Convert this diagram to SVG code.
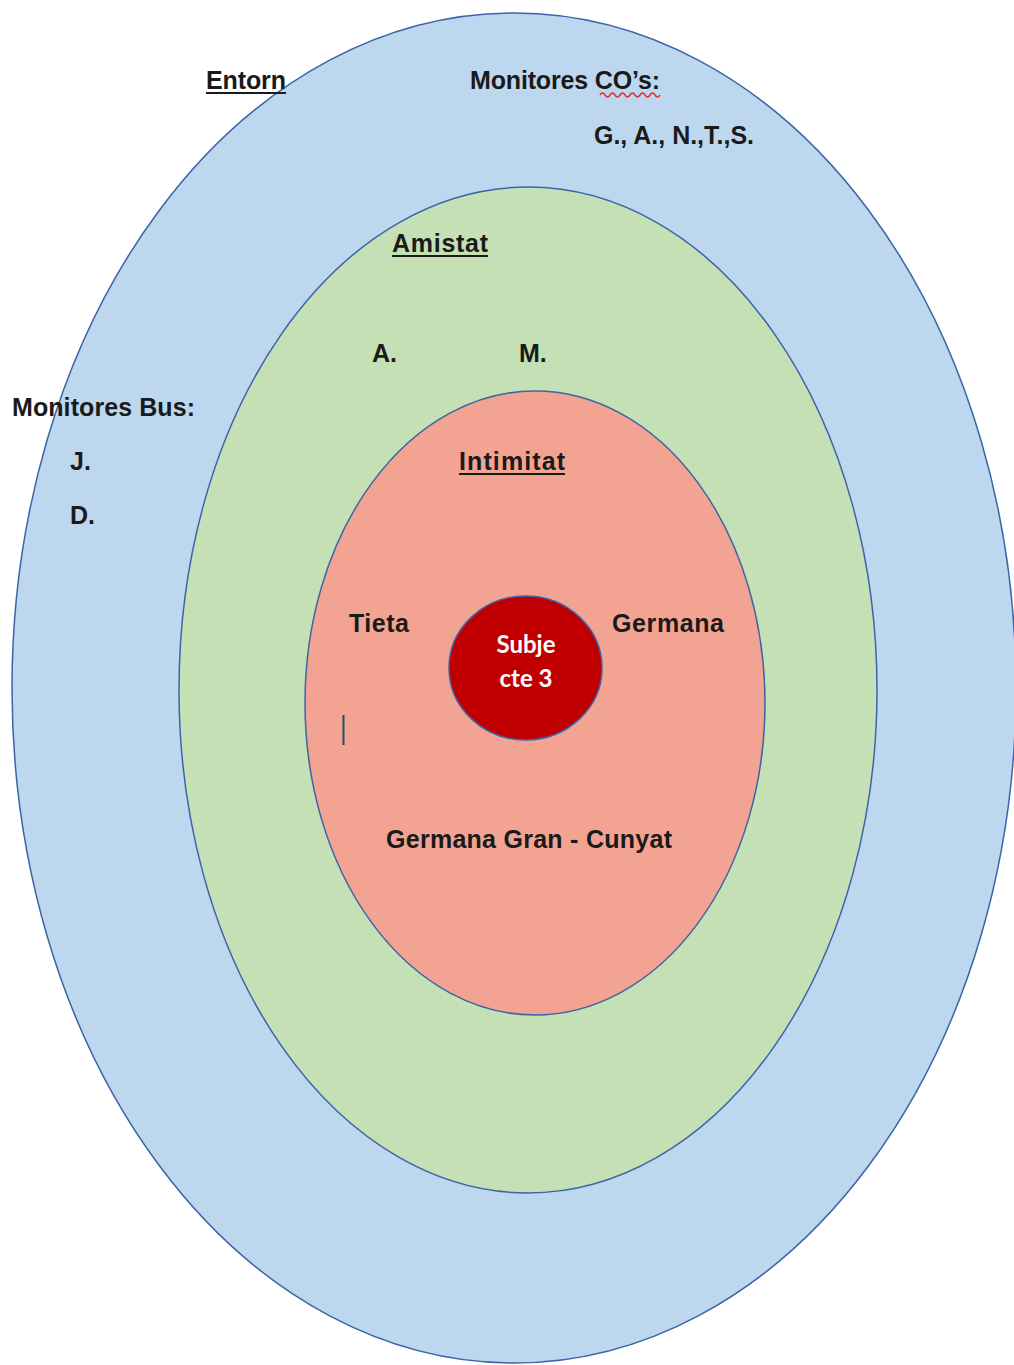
<svg xmlns="http://www.w3.org/2000/svg" width="1014" height="1365" viewBox="0 0 1014 1365">
  <style>
    .ring { stroke: #3C64A8; stroke-width: 1.5; }
    .lbl { font-family: "Liberation Sans", Arial, sans-serif; font-weight: bold; font-size: 25px; fill: #1A1A1A; }
    .ul { stroke: #1A1A1A; stroke-width: 2; }
    .core { font-family: Lato, "Open Sans", sans-serif; font-weight: bold; font-size: 24px; fill: #FFFFFF; text-anchor: middle; }
  </style>
  <rect width="1014" height="1365" fill="#FFFFFF"/>

  <!-- Entorn ring -->
  <g id="entorn">
    <ellipse class="ring" cx="514" cy="688" rx="502" ry="675" fill="#BDD7EE"/>
    <text class="lbl" x="206" y="89" textLength="80" lengthAdjust="spacing">Entorn</text>
    <line class="ul" x1="206" y1="93" x2="286" y2="93"/>
    <text class="lbl" x="470" y="89" textLength="190" lengthAdjust="spacing">Monitores CO’s:</text>
    <path d="M600 95 q2.5 -4 5 0 t5 0 t5 0 t5 0 t5 0 t5 0 t5 0 t5 0 t5 0 t5 0 t5 0 t5 0" fill="none" stroke="#E03030" stroke-width="1.5"/>
    <text class="lbl" x="594" y="144" textLength="160" lengthAdjust="spacing">G., A., N.,T.,S.</text>
    <text class="lbl" x="12" y="416" textLength="183" lengthAdjust="spacing">Monitores Bus:</text>
    <text class="lbl" x="70" y="470">J.</text>
    <text class="lbl" x="70" y="524">D.</text>
  </g>

  <!-- Amistat ring -->
  <g id="amistat">
    <ellipse class="ring" cx="528" cy="690" rx="349" ry="503" fill="#C5E0B4"/>
    <text class="lbl" x="392" y="252" textLength="96" lengthAdjust="spacing">Amistat</text>
    <line class="ul" x1="392" y1="256" x2="488" y2="256"/>
    <text class="lbl" x="372" y="362">A.</text>
    <text class="lbl" x="519" y="362">M.</text>
  </g>

  <!-- Intimitat ring -->
  <g id="intimitat">
    <ellipse class="ring" cx="535" cy="703" rx="230" ry="312" fill="#F3A391"/>
    <text class="lbl" x="459" y="470" textLength="106" lengthAdjust="spacing">Intimitat</text>
    <line class="ul" x1="459" y1="474" x2="565" y2="474"/>
    <text class="lbl" x="349" y="632" textLength="60" lengthAdjust="spacing">Tieta</text>
    <text class="lbl" x="612" y="632" textLength="112" lengthAdjust="spacing">Germana</text>
    <text class="lbl" x="386" y="848" textLength="286" lengthAdjust="spacing">Germana Gran - Cunyat</text>
    <line x1="343.5" y1="715" x2="343.5" y2="745" stroke="#1F5060" stroke-width="2"/>
  </g>

  <!-- Subject at the centre -->
  <g id="subjecte">
    <ellipse class="ring" cx="525.5" cy="668" rx="76.5" ry="72" fill="#C00000"/>
    <text class="core" x="526" y="653">Subje</text>
    <text class="core" x="526" y="687">cte 3</text>
  </g>

  <g id="connectors"/>
</svg>
